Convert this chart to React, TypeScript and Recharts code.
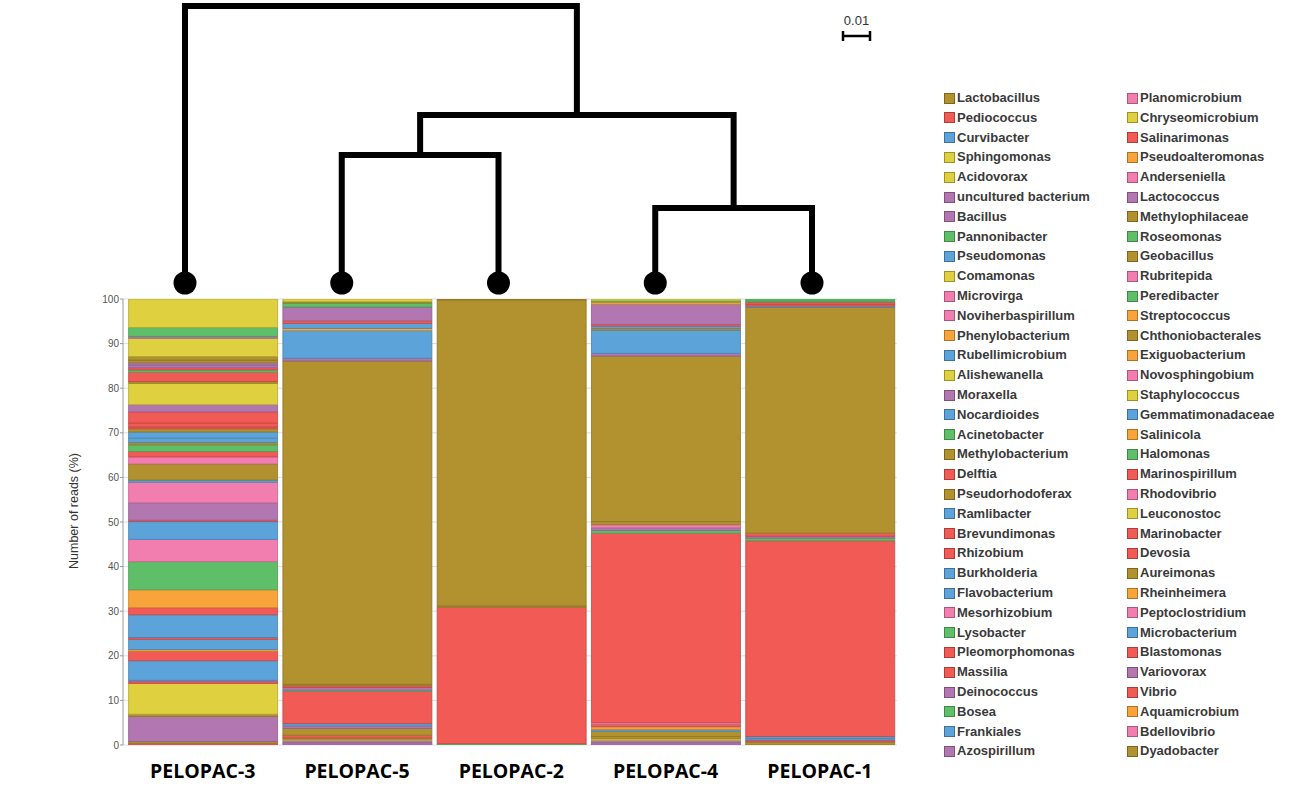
import { BarChart, Bar, XAxis, YAxis, CartesianGrid, Cell } from 'recharts';

const COLORS: Record<string, string> = {
  olive: '#b1922f',
  red: '#f15a55',
  blue: '#5ba3d9',
  yellow: '#dfd03f',
  purple: '#b277b1',
  green: '#5fbf69',
  pink: '#f27eaf',
  orange: '#f9a43a',
};

// legend, two columns, genus + colour family
const LEGEND_LEFT: [string, string][] = [
  ['Lactobacillus', 'olive'], ['Pediococcus', 'red'], ['Curvibacter', 'blue'], ['Sphingomonas', 'yellow'],
  ['Acidovorax', 'yellow'], ['uncultured bacterium', 'purple'], ['Bacillus', 'purple'], ['Pannonibacter', 'green'],
  ['Pseudomonas', 'blue'], ['Comamonas', 'yellow'], ['Microvirga', 'pink'], ['Noviherbaspirillum', 'pink'],
  ['Phenylobacterium', 'orange'], ['Rubellimicrobium', 'blue'], ['Alishewanella', 'yellow'], ['Moraxella', 'purple'],
  ['Nocardioides', 'blue'], ['Acinetobacter', 'green'], ['Methylobacterium', 'olive'], ['Delftia', 'red'],
  ['Pseudorhodoferax', 'olive'], ['Ramlibacter', 'blue'], ['Brevundimonas', 'red'], ['Rhizobium', 'red'],
  ['Burkholderia', 'blue'], ['Flavobacterium', 'blue'], ['Mesorhizobium', 'pink'], ['Lysobacter', 'green'],
  ['Pleomorphomonas', 'red'], ['Massilia', 'red'], ['Deinococcus', 'purple'], ['Bosea', 'green'],
  ['Frankiales', 'blue'], ['Azospirillum', 'purple'],
];
const LEGEND_RIGHT: [string, string][] = [
  ['Planomicrobium', 'pink'], ['Chryseomicrobium', 'yellow'], ['Salinarimonas', 'red'], ['Pseudoalteromonas', 'orange'],
  ['Anderseniella', 'pink'], ['Lactococcus', 'purple'], ['Methylophilaceae', 'olive'], ['Roseomonas', 'green'],
  ['Geobacillus', 'olive'], ['Rubritepida', 'pink'], ['Peredibacter', 'green'], ['Streptococcus', 'orange'],
  ['Chthoniobacterales', 'olive'], ['Exiguobacterium', 'orange'], ['Novosphingobium', 'pink'], ['Staphylococcus', 'yellow'],
  ['Gemmatimonadaceae', 'blue'], ['Salinicola', 'orange'], ['Halomonas', 'green'], ['Marinospirillum', 'red'],
  ['Rhodovibrio', 'pink'], ['Leuconostoc', 'yellow'], ['Marinobacter', 'red'], ['Devosia', 'red'],
  ['Aureimonas', 'olive'], ['Rheinheimera', 'orange'], ['Peptoclostridium', 'pink'], ['Microbacterium', 'blue'],
  ['Blastomonas', 'red'], ['Variovorax', 'purple'], ['Vibrio', 'red'], ['Aquamicrobium', 'orange'],
  ['Bdellovibrio', 'pink'], ['Dyadobacter', 'olive'],
];

// relative abundance (%) per sample, bottom to top
const PELOPAC_3: [string, number][] = [
  ['Delftia', 0.4], ['Methylobacterium', 0.4], ['Bacillus', 5.6], ['Pseudorhodoferax', 0.5], ['Sphingomonas', 6.9],
  ['Brevundimonas', 0.4], ['Deinococcus', 0.3], ['Pseudomonas', 4.4], ['Rhizobium', 2.1], ['Salinicola', 0.4],
  ['Rubellimicrobium', 2.3], ['Pleomorphomonas', 0.4], ['Curvibacter', 5.1], ['Pediococcus', 1.6], ['Phenylobacterium', 4.0],
  ['Pannonibacter', 6.3], ['Microvirga', 5.0], ['Nocardioides', 4.0], ['Massilia', 0.3], ['uncultured bacterium', 3.9],
  ['Noviherbaspirillum', 4.6], ['Ramlibacter', 0.5], ['Lactobacillus', 3.6], ['Mesorhizobium', 1.6], ['Salinarimonas', 1.2],
  ['Acinetobacter', 1.5], ['Methylophilaceae', 0.5], ['Burkholderia', 1.0], ['Flavobacterium', 1.4], ['Geobacillus', 0.7],
  ['Marinospirillum', 0.4], ['Marinobacter', 0.9], ['Devosia', 2.5], ['Moraxella', 1.6], ['Acidovorax', 4.8],
  ['Chthoniobacterales', 0.4], ['Blastomonas', 2.1], ['Lysobacter', 0.5], ['Vibrio', 0.5], ['Azospirillum', 0.6],
  ['Lactococcus', 0.5], ['Aureimonas', 0.6], ['Dyadobacter', 0.8], ['Comamonas', 4.1], ['Variovorax', 0.4],
  ['Bosea', 2.0], ['Alishewanella', 6.4],
];
const PELOPAC_5: [string, number][] = [
  ['Azospirillum', 0.5], ['Variovorax', 0.5], ['Chryseomicrobium', 0.3], ['Methylobacterium', 0.3], ['Massilia', 0.6],
  ['Pseudorhodoferax', 1.5], ['Deinococcus', 0.6], ['Frankiales', 0.5], ['Pediococcus', 7.2], ['Roseomonas', 0.3],
  ['Lactococcus', 0.6], ['Delftia', 0.4], ['Geobacillus', 0.3], ['Lactobacillus', 72.5], ['Moraxella', 0.6],
  ['Pseudomonas', 6.2], ['Pseudoalteromonas', 0.5], ['Curvibacter', 1.1], ['Rhizobium', 0.6], ['Bacillus', 3.1],
  ['Pannonibacter', 0.9], ['Aureimonas', 0.3], ['Sphingomonas', 0.6],
];
const PELOPAC_2: [string, number][] = [
  ['Bosea', 0.3], ['Pediococcus', 30.6], ['Methylobacterium', 0.3], ['Lactobacillus', 68.6], ['Aureimonas', 0.2],
];
const PELOPAC_4: [string, number][] = [
  ['Azospirillum', 0.5], ['Variovorax', 0.5], ['Staphylococcus', 0.4], ['Chthoniobacterales', 0.5], ['Pseudorhodoferax', 1.2],
  ['Microbacterium', 0.4], ['Exiguobacterium', 0.6], ['Massilia', 0.5], ['Planomicrobium', 0.4], ['Pediococcus', 42.5],
  ['Peredibacter', 0.6], ['Lactococcus', 0.6], ['Rubritepida', 0.7], ['Methylobacterium', 0.7], ['Lactobacillus', 37.1],
  ['Moraxella', 0.6], ['Pseudomonas', 5.2], ['Dyadobacter', 0.4], ['Curvibacter', 0.5], ['Rhizobium', 0.4],
  ['Bacillus', 4.5], ['Streptococcus', 0.5], ['Pannonibacter', 0.3], ['Sphingomonas', 0.4],
];
const PELOPAC_1: [string, number][] = [
  ['Methylobacterium', 0.7], ['Delftia', 0.4], ['Flavobacterium', 0.4], ['Gemmatimonadaceae', 0.4], ['Pediococcus', 43.9],
  ['Halomonas', 0.6], ['Lactococcus', 0.4], ['Rhizobium', 0.7], ['Lactobacillus', 50.6], ['Curvibacter', 0.3],
  ['Brevundimonas', 0.4], ['Marinobacter', 0.5], ['Pannonibacter', 0.3], ['Acinetobacter', 0.4],
];

const SAMPLES = ['PELOPAC-3', 'PELOPAC-5', 'PELOPAC-2', 'PELOPAC-4', 'PELOPAC-1'];
const SAMPLE_SEGMENTS = [PELOPAC_3, PELOPAC_5, PELOPAC_2, PELOPAC_4, PELOPAC_1];
const Y_TICKS = [0, 10, 20, 30, 40, 50, 60, 70, 80, 90, 100];

// UPGMA-style tree: [left, right, height]; merged nodes are n1, n2, ...
const TREE_MERGES: [string, string, number][] = [
  ['PELOPAC-4', 'PELOPAC-1', 0.0278],
  ['PELOPAC-5', 'PELOPAC-2', 0.0474],
  ['n2', 'n1', 0.0622],
  ['PELOPAC-3', 'n3', 0.1026],
];
const SCALE_BAR = 0.01;

const genusColor: Record<string, string> = {};
[...LEGEND_LEFT, ...LEGEND_RIGHT].forEach(([g, c]) => (genusColor[g] = COLORS[c]));

const darken = (hex: string, f = 0.8) => {
  const n = parseInt(hex.slice(1), 16);
  const r = Math.round(((n >> 16) & 255) * f);
  const g = Math.round(((n >> 8) & 255) * f);
  const b = Math.round((n & 255) * f);
  return `rgb(${r},${g},${b})`;
};

const maxSlots = Math.max(...SAMPLE_SEGMENTS.map((s) => s.length));
const data = SAMPLES.map((name, i) => {
  const row: Record<string, any> = { name };
  SAMPLE_SEGMENTS[i].forEach(([g, v], k) => {
    row[`s${k}`] = v;
    row[`g${k}`] = g;
  });
  return row;
});

const FONT = '"Liberation Sans", Arial, sans-serif';

function Dendrogram() {
  const leafX0 = 185;
  const leafStep = 156.75;
  const leafY = 283;
  const pxPerUnit = 2700;
  const pos: Record<string, { x: number; y: number }> = {};
  SAMPLES.forEach((s, i) => (pos[s] = { x: leafX0 + i * leafStep, y: leafY }));
  const paths: string[] = [];
  TREE_MERGES.forEach(([a, b, h], i) => {
    const y = leafY - h * pxPerUnit;
    const pa = pos[a];
    const pb = pos[b];
    paths.push(`M${pa.x},${pa.y} V${y} H${pb.x} V${pb.y}`);
    pos[`n${i + 1}`] = { x: (pa.x + pb.x) / 2, y };
  });
  const sbLen = SCALE_BAR * pxPerUnit;
  return (
    <svg width={1304} height={789} style={{ position: 'absolute', left: 0, top: 0, pointerEvents: 'none' }}>
      {paths.map((d, i) => (
        <path key={i} d={d} fill="none" stroke="#000" strokeWidth={6} strokeLinejoin="miter" strokeLinecap="square" />
      ))}
      {SAMPLES.map((s) => (
        <circle key={s} cx={pos[s].x} cy={leafY} r={11.5} fill="#000" />
      ))}
      <text x={843 + sbLen / 2} y={25} textAnchor="middle" fontFamily={FONT} fontSize={13} fill="#333">
        {SCALE_BAR}
      </text>
      <path d={`M843,36 H${843 + sbLen} M843,31 V41 M${843 + sbLen},31 V41`} stroke="#000" strokeWidth={2.5} />
      <text
        transform="translate(78,511) rotate(-90)"
        textAnchor="middle"
        fontFamily={FONT}
        fontSize={12.5}
        fill="#333"
      >
        Number of reads (%)
      </text>
    </svg>
  );
}

function LegendColumn({ items, left }: { items: [string, string][]; left: number }) {
  return (
    <>
      {items.map(([g, c], i) => {
        const cy = 98 + i * 19.8;
        return (
          <div key={g}>
            <div
              style={{
                position: 'absolute',
                left,
                top: cy - 5.5,
                width: 9,
                height: 9,
                background: COLORS[c],
                border: `1px solid ${darken(COLORS[c], 0.7)}`,
              }}
            />
            <div
              style={{
                position: 'absolute',
                left: left + 13,
                top: cy - 8,
                height: 16,
                lineHeight: '16px',
                fontFamily: FONT,
                fontWeight: 700,
                fontSize: 13,
                color: '#3a3a3a',
                whiteSpace: 'nowrap',
              }}
            >
              {g}
            </div>
          </div>
        );
      })}
    </>
  );
}

const XTick = ({ x, y, payload }: any) => (
  <text x={x} y={y + 25} textAnchor="middle" fontFamily='"Open Sans", sans-serif' fontWeight={700} fontSize={19.5} fill="#000">
    {payload.value}
  </text>
);

export default function App() {
  return (
    <div style={{ position: 'absolute', left: 0, top: 0, width: 1304, height: 789, background: '#fff', overflow: 'hidden' }}>
      <BarChart
        width={1304}
        height={789}
        data={data}
        margin={{ top: 299, right: 407, bottom: 4, left: 83 }}
        barSize={149}
      >
        <CartesianGrid vertical={false} stroke="#dedede" />
        <XAxis
          dataKey="name"
          height={40}
          axisLine={false}
          tickLine={false}
          padding={{ left: 2.6, right: 0 }}
          tick={<XTick />}
          interval={0}
        />
        <YAxis
          width={40}
          domain={[0, 100]}
          ticks={Y_TICKS}
          allowDataOverflow
          axisLine={{ stroke: '#999' }}
          tickLine={{ stroke: '#999' }}
          tickSize={3}
          tickMargin={1}
          tick={{ fontSize: 10, fill: '#555', fontFamily: '"Liberation Sans Narrow", "Liberation Sans", sans-serif' }}
        />
        {Array.from({ length: maxSlots }, (_, k) => (
          <Bar key={k} dataKey={`s${k}`} stackId="a" isAnimationActive={false} strokeWidth={0.8}>
            {data.map((row, i) => {
              const col = genusColor[row[`g${k}`]] || '#ccc';
              return <Cell key={i} fill={col} stroke={darken(col, 0.8)} />;
            })}
          </Bar>
        ))}
      </BarChart>
      <Dendrogram />
      <LegendColumn items={LEGEND_LEFT} left={944} />
      <LegendColumn items={LEGEND_RIGHT} left={1127} />
    </div>
  );
}
